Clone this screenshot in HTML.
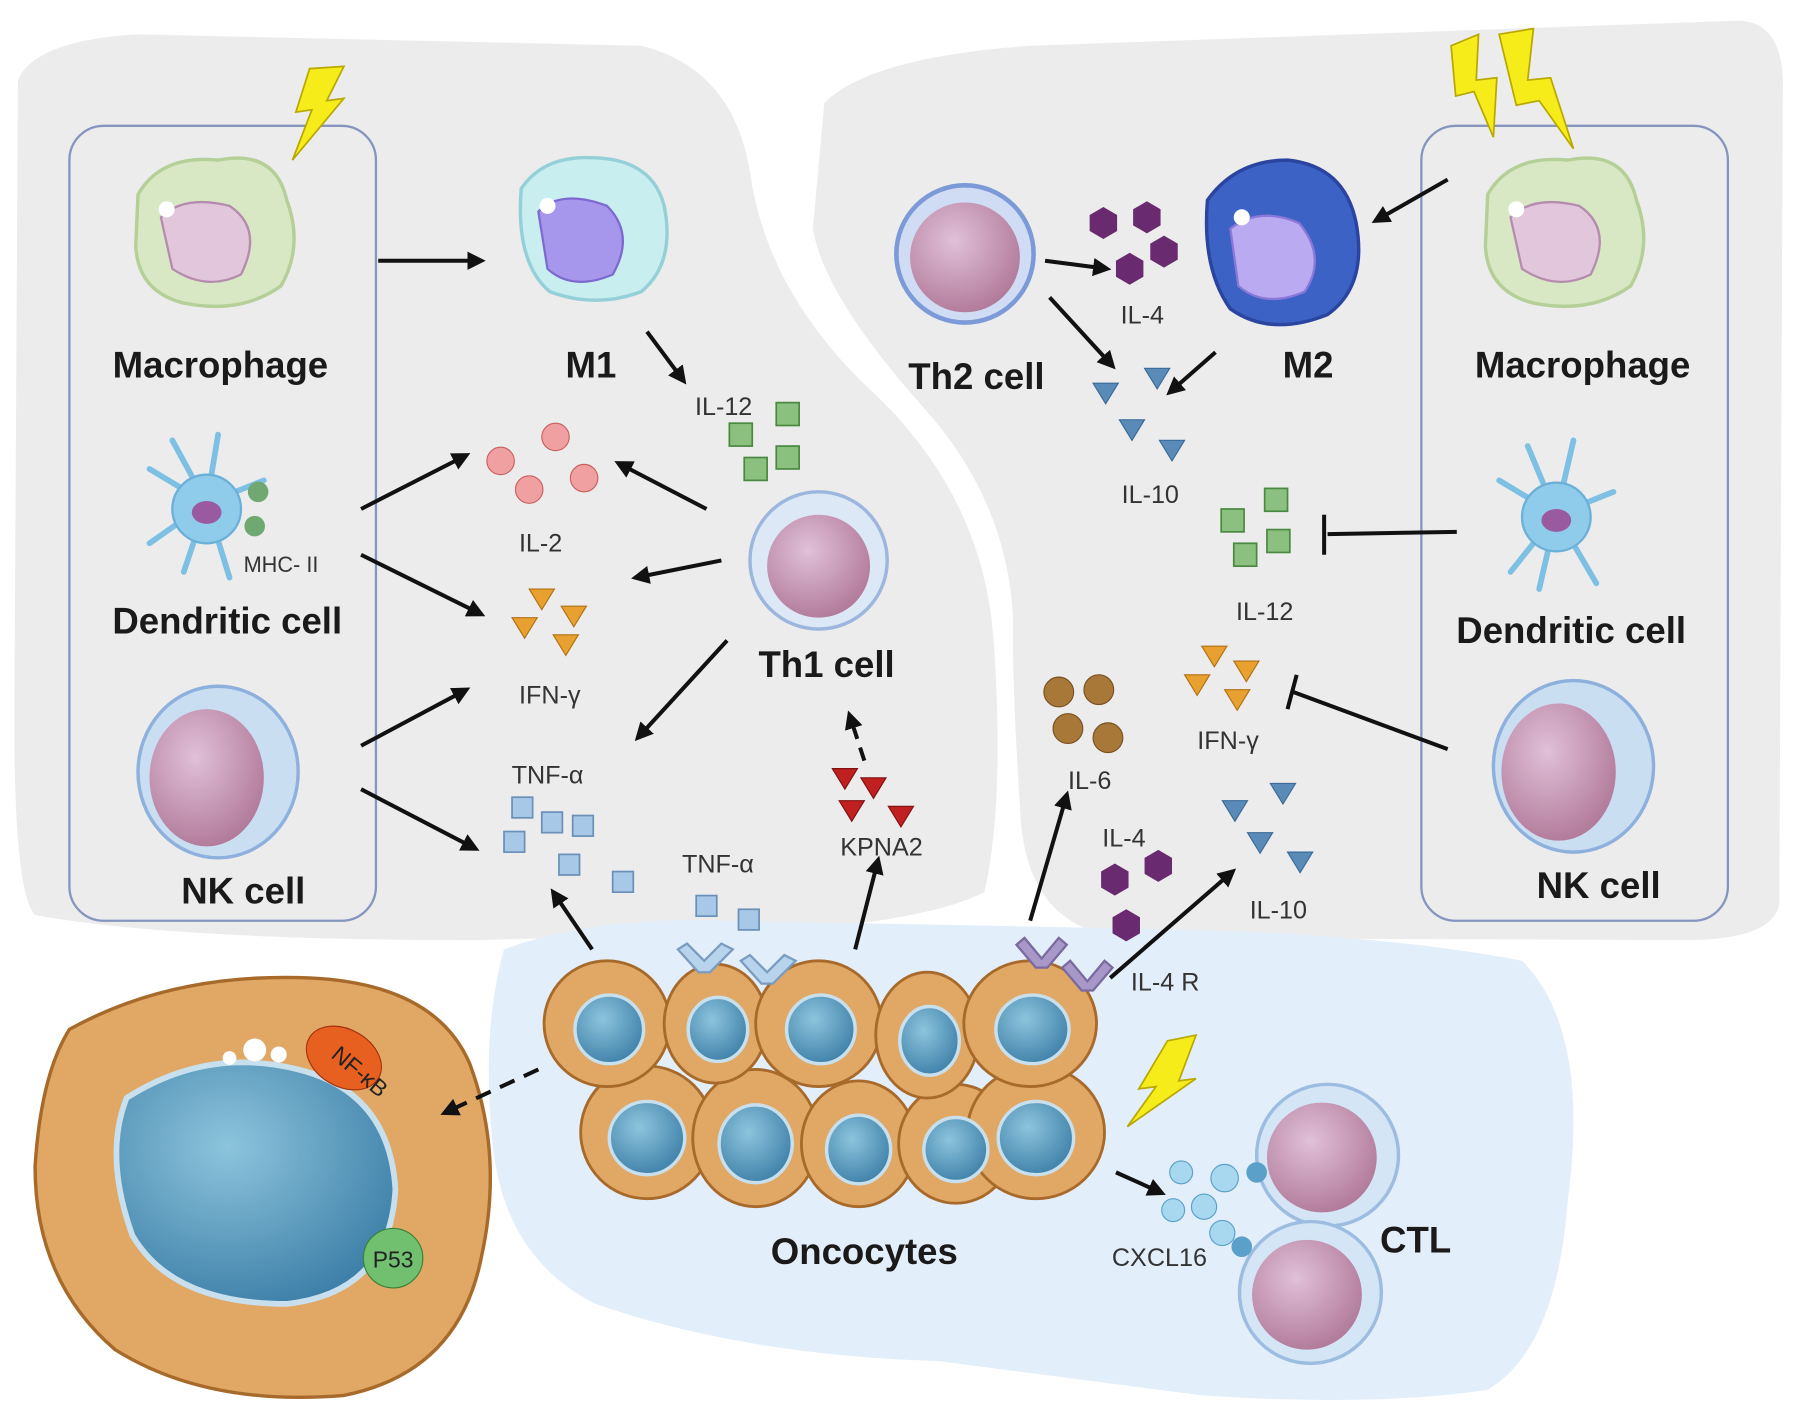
<!DOCTYPE html>
<html><head><meta charset="utf-8"><style>
html,body{margin:0;padding:0;background:#fff;}
svg{display:block;}
text{font-family:"Liberation Sans",sans-serif;}
.lb{font-weight:bold;font-size:32px;fill:#1a1a1a;}
.ck{font-size:22px;fill:#333;}
</style></head><body>
<svg width="1795" height="1416" viewBox="0 0 1568 1238" xmlns="http://www.w3.org/2000/svg">
<defs>
<marker id="ah" markerWidth="16" markerHeight="16" refX="12" refY="8" orient="auto" markerUnits="userSpaceOnUse"><path d="M0,0 L16,8 L0,16 z" fill="#111"/></marker>
<radialGradient id="nuc" cx="0.4" cy="0.35" r="0.7"><stop offset="0" stop-color="#e0c0d8"/><stop offset="1" stop-color="#b07898"/></radialGradient>
<radialGradient id="blu" cx="0.4" cy="0.35" r="0.7"><stop offset="0" stop-color="#8cc4dc"/><stop offset="1" stop-color="#3d7fa8"/></radialGradient>
</defs>
<!-- blobs -->
<path d="M15,70 Q30,35 120,30 L560,40 Q640,60 655,150 Q670,260 770,350 Q860,440 868,560 Q878,700 860,780 Q800,810 640,815 L420,822 Q150,822 30,800 Q10,780 12,600 Z" fill="#ececec"/>
<path d="M720,90 Q760,50 900,40 L1520,18 Q1560,20 1558,80 L1555,790 Q1550,820 1480,822 L980,820 Q900,810 892,720 Q884,600 885,540 Q880,440 810,360 Q720,260 710,200 Z" fill="#ececec"/>
<path d="M440,830 Q520,800 640,805 L1000,812 Q1200,815 1330,840 Q1390,900 1370,1050 Q1360,1180 1300,1215 Q1200,1230 1050,1220 L820,1190 Q650,1185 520,1140 Q440,1100 430,1000 Q420,900 440,830 Z" fill="#e3eefb"/>
<!-- boxes -->
<rect x="60" y="110" width="268" height="695" rx="30" fill="none" stroke="#8595bf" stroke-width="2"/>
<rect x="1242" y="110" width="268" height="695" rx="30" fill="none" stroke="#8595bf" stroke-width="2"/>
<!-- lightning -->
<g fill="#f6ec1a" stroke="#b8a800" stroke-width="1.5">
<polygon points="270,60 300,58 285,88 300,86 255,140 272,96 258,98"/>
<polygon points="1268,40 1292,30 1290,70 1308,68 1305,120 1288,80 1272,84"/>
<polygon points="1310,30 1340,25 1335,70 1355,68 1375,130 1345,88 1325,92"/>
<polygon points="1020,910 1045,905 1030,945 1045,943 985,985 1010,950 995,952"/>
</g>
<g>
<path d="M120,170 Q140,135 190,140 Q240,130 250,175 Q265,215 245,250 Q210,275 160,265 Q120,255 118,215 Z" fill="#d9e8c4" stroke="#b5cf98" stroke-width="3"/>
<path d="M140,190 Q160,170 200,180 Q230,200 210,240 Q180,255 150,235 Z" fill="#e2c6dc" stroke="#b58cae" stroke-width="2"/>
<circle cx="145" cy="183" r="7" fill="#fff"/>
</g>
<g transform="translate(1180,0)">
<path d="M120,170 Q140,135 190,140 Q240,130 250,175 Q265,215 245,250 Q210,275 160,265 Q120,255 118,215 Z" fill="#d9e8c4" stroke="#b5cf98" stroke-width="3"/>
<path d="M140,190 Q160,170 200,180 Q230,200 210,240 Q180,255 150,235 Z" fill="#e2c6dc" stroke="#b58cae" stroke-width="2"/>
<circle cx="145" cy="183" r="7" fill="#fff"/>
</g>
<g>
<path d="M455,165 Q475,135 520,138 Q570,140 580,180 Q590,230 560,255 Q520,270 480,255 Q450,230 455,165 Z" fill="#c9eef0" stroke="#95d0d8" stroke-width="3"/>
<path d="M470,185 Q490,165 530,180 Q555,205 535,240 Q500,255 478,235 Z" fill="#a797ec" stroke="#7d6ad0" stroke-width="2"/>
<circle cx="478" cy="180" r="7" fill="#fff"/>
</g>
<g>
<path d="M1055,175 Q1080,140 1125,140 Q1175,145 1185,195 Q1195,250 1160,275 Q1110,295 1075,270 Q1050,235 1055,175 Z" fill="#3b62c4" stroke="#2a44a0" stroke-width="3"/>
<path d="M1075,200 Q1100,180 1135,195 Q1160,225 1140,255 Q1105,270 1082,250 Z" fill="#b9aaf2" stroke="#8a78d8" stroke-width="2"/>
<circle cx="1085" cy="190" r="7" fill="#fff"/>
</g>
<g stroke="#7ec0e4" stroke-width="5" fill="none" stroke-linecap="round">
<path d="M180,440 L130,410 M180,440 L150,385 M180,440 L190,380 M180,440 L130,475 M180,440 L160,500 M180,440 L200,505 M180,440 L230,420"/>
<path d="M1360,450 L1310,420 M1360,450 L1335,390 M1360,450 L1375,385 M1360,450 L1410,430 M1360,450 L1320,500 M1360,450 L1345,515 M1360,450 L1395,510"/>
</g>
<circle cx="180" cy="445" r="30" fill="#8fcbea" stroke="#6ab0d8" stroke-width="2"/><ellipse cx="180" cy="448" rx="13" ry="10" fill="#9a5aa0"/>
<circle cx="1360" cy="452" r="30" fill="#8fcbea" stroke="#6ab0d8" stroke-width="2"/><ellipse cx="1360" cy="455" rx="13" ry="10" fill="#9a5aa0"/>
<g fill="#6fa870"><circle cx="225" cy="430" r="9"/><circle cx="222" cy="460" r="9"/></g>
<ellipse cx="190" cy="675" rx="70" ry="75" fill="#cadef2" stroke="#8eb0dc" stroke-width="3"/>
<ellipse cx="180" cy="680" rx="50" ry="60" fill="url(#nuc)"/>
<ellipse cx="1375" cy="670" rx="70" ry="75" fill="#cadef2" stroke="#8eb0dc" stroke-width="3"/>
<ellipse cx="1362" cy="675" rx="50" ry="60" fill="url(#nuc)"/>
<circle cx="715" cy="490" r="60" fill="#dde8f6" stroke="#9cb6de" stroke-width="3"/><circle cx="715" cy="495" r="45" fill="url(#nuc)"/>
<circle cx="843" cy="222" r="60" fill="#cfdcf4" stroke="#7d9ad8" stroke-width="4"/><circle cx="843" cy="225" r="48" fill="url(#nuc)"/>
<g fill="#f0a0a0" stroke="#c86060"><circle cx="485" cy="382" r="12"/><circle cx="437" cy="403" r="12"/><circle cx="510" cy="418" r="12"/><circle cx="462" cy="428" r="12"/></g>
<g fill="#e8a030" stroke="#b07010"><polygon points="462,515 484,515 473,533"/><polygon points="490,530 512,530 501,548"/><polygon points="447,540 469,540 458,558"/><polygon points="483,555 505,555 494,573"/></g>
<g fill="#a8c8e8" stroke="#6a90b8" stroke-width="1.5"><rect x="447" y="697" width="18" height="18"/><rect x="473" y="710" width="18" height="18"/><rect x="500" y="713" width="18" height="18"/><rect x="440" y="727" width="18" height="18"/><rect x="488" y="747" width="18" height="18"/><rect x="535" y="762" width="18" height="18"/><rect x="608" y="783" width="18" height="18"/><rect x="645" y="795" width="18" height="18"/></g>
<g fill="#8cc080" stroke="#4a8a40" stroke-width="1.5"><rect x="678" y="352" width="20" height="20"/><rect x="637" y="370" width="20" height="20"/><rect x="678" y="390" width="20" height="20"/><rect x="650" y="400" width="20" height="20"/>
<rect x="1105" y="427" width="20" height="20"/><rect x="1067" y="445" width="20" height="20"/><rect x="1107" y="463" width="20" height="20"/><rect x="1078" y="475" width="20" height="20"/></g>
<g fill="#6a2a70"><polygon points="952,188 964,181 976,188 976,202 964,209 952,202"/><polygon points="990,183 1002,176 1014,183 1014,197 1002,204 990,197"/><polygon points="1005,213 1017,206 1029,213 1029,227 1017,234 1005,227"/><polygon points="975,228 987,221 999,228 999,242 987,249 975,242"/>
<polygon points="962,762 974,755 986,762 986,776 974,783 962,776"/><polygon points="1000,750 1012,743 1024,750 1024,764 1012,771 1000,764"/><polygon points="972,802 984,795 996,802 996,816 984,823 972,816"/></g>
<g fill="#5a8ab8" stroke="#3a6a98"><polygon points="1000,322 1022,322 1011,340"/><polygon points="955,335 977,335 966,353"/><polygon points="978,367 1000,367 989,385"/><polygon points="1013,385 1035,385 1024,403"/>
<polygon points="1110,685 1132,685 1121,703"/><polygon points="1068,700 1090,700 1079,718"/><polygon points="1090,728 1112,728 1101,746"/><polygon points="1125,745 1147,745 1136,763"/></g>
<g fill="#e8a030" stroke="#b07010"><polygon points="1050,565 1072,565 1061,583"/><polygon points="1078,578 1100,578 1089,596"/><polygon points="1035,590 1057,590 1046,608"/><polygon points="1070,603 1092,603 1081,621"/></g>
<g fill="#a87838" stroke="#7a5020"><circle cx="925" cy="605" r="13"/><circle cx="960" cy="603" r="13"/><circle cx="933" cy="637" r="13"/><circle cx="968" cy="645" r="13"/></g>
<g fill="#c02020" stroke="#801010"><polygon points="727,672 749,672 738,690"/><polygon points="752,680 774,680 763,698"/><polygon points="733,700 755,700 744,718"/><polygon points="776,705 798,705 787,723"/></g>
<g fill="#a8d8f0" stroke="#5aa0c8"><circle cx="1032" cy="1025" r="10"/><circle cx="1070" cy="1030" r="12"/><circle cx="1025" cy="1058" r="10"/><circle cx="1052" cy="1055" r="11"/><circle cx="1068" cy="1078" r="11"/></g>
<path d="M60,900 Q150,850 270,855 Q380,860 410,930 Q440,1010 420,1100 Q400,1200 300,1220 Q180,1230 100,1180 Q30,1120 30,1020 Q35,940 60,900 Z" fill="#e0a864" stroke="#a86a2a" stroke-width="3"/>
<path d="M110,960 Q180,915 260,935 Q340,955 345,1040 Q340,1130 250,1140 Q150,1140 115,1080 Q90,1010 110,960 Z" fill="url(#blu)" stroke="#c8e0ee" stroke-width="5"/>
<circle cx="222" cy="918" r="10" fill="#fff"/><circle cx="243" cy="922" r="7" fill="#fff"/><circle cx="200" cy="925" r="6" fill="#fff"/>
<ellipse cx="300" cy="925" rx="35" ry="25" fill="#e86020" stroke="#a03010" transform="rotate(30 300 925)"/>
<text x="290" y="932" font-size="20" fill="#222" transform="rotate(40 300 925)">NF-κB</text>
<circle cx="343" cy="1100" r="26" fill="#70c070" stroke="#3a803a"/>
<text x="343" y="1108" font-size="20" fill="#222" text-anchor="middle">P53</text>
<g fill="#e0a864" stroke="#a86a2a" stroke-width="2.5">
<ellipse cx="565" cy="990" rx="58" ry="58"/><ellipse cx="660" cy="995" rx="55" ry="60"/><ellipse cx="750" cy="1000" rx="50" ry="55"/><ellipse cx="835" cy="1000" rx="50" ry="52"/><ellipse cx="905" cy="990" rx="60" ry="58"/>
<ellipse cx="530" cy="895" rx="55" ry="55"/><ellipse cx="625" cy="895" rx="45" ry="52"/><ellipse cx="715" cy="895" rx="55" ry="55"/><ellipse cx="810" cy="905" rx="45" ry="55"/><ellipse cx="900" cy="895" rx="58" ry="55"/>
</g>
<g fill="url(#blu)" stroke="#c8e0ee" stroke-width="3">
<ellipse cx="565" cy="995" rx="33" ry="32"/><ellipse cx="660" cy="1000" rx="32" ry="34"/><ellipse cx="750" cy="1005" rx="28" ry="30"/><ellipse cx="835" cy="1005" rx="28" ry="28"/><ellipse cx="905" cy="995" rx="33" ry="32"/>
<ellipse cx="532" cy="900" rx="30" ry="30"/><ellipse cx="627" cy="900" rx="26" ry="28"/><ellipse cx="717" cy="900" rx="30" ry="30"/><ellipse cx="812" cy="910" rx="26" ry="30"/><ellipse cx="902" cy="900" rx="32" ry="30"/>
</g>
<g fill="#b8d4ec" stroke="#7a9cc0" stroke-width="2"><path d="M600,825 L615,840 L630,825 L640,830 L620,850 L610,850 L592,830 Z"/><path d="M655,835 L670,850 L685,835 L695,840 L675,860 L665,860 L647,840 Z"/></g>
<g fill="#a898c8" stroke="#7a6aa0" stroke-width="2"><path d="M895,820 L910,838 L925,820 L932,826 L915,846 L905,846 L888,826 Z"/><path d="M935,840 L950,858 L965,840 L972,846 L955,866 L945,866 L928,846 Z"/></g>
<circle cx="1160" cy="1010" r="62" fill="#d4e6f6" stroke="#9cbce0" stroke-width="3"/><circle cx="1155" cy="1012" r="48" fill="url(#nuc)"/>
<circle cx="1145" cy="1130" r="62" fill="#d4e6f6" stroke="#9cbce0" stroke-width="3"/><circle cx="1142" cy="1132" r="48" fill="url(#nuc)"/>
<g fill="#5aa0c8"><circle cx="1098" cy="1025" r="9"/><circle cx="1085" cy="1090" r="9"/></g>
<g stroke="#111" stroke-width="3.5" fill="none" marker-end="url(#ah)">
<line x1="330" y1="228" x2="420" y2="228"/>
<line x1="565" y1="290" x2="597" y2="333"/>
<line x1="315" y1="445" x2="407" y2="398"/>
<line x1="315" y1="485" x2="420" y2="537"/>
<line x1="315" y1="652" x2="407" y2="603"/>
<line x1="315" y1="690" x2="415" y2="742"/>
<line x1="617" y1="445" x2="540" y2="405"/>
<line x1="630" y1="490" x2="555" y2="505"/>
<line x1="635" y1="560" x2="557" y2="645"/>
<line x1="517" y1="830" x2="483" y2="780"/>
<line x1="747" y1="830" x2="767" y2="752"/>
<line x1="900" y1="805" x2="932" y2="695"/>
<line x1="970" y1="855" x2="1077" y2="762"/>
<line x1="913" y1="228" x2="967" y2="235"/>
<line x1="917" y1="260" x2="972" y2="320"/>
<line x1="1062" y1="308" x2="1022" y2="343"/>
<line x1="1265" y1="157" x2="1202" y2="193"/>
<line x1="975" y1="1025" x2="1015" y2="1043"/>
</g>
<line x1="755" y1="665" x2="742" y2="625" stroke="#111" stroke-width="3.5" stroke-dasharray="12,8" marker-end="url(#ah)"/>
<line x1="470" y1="935" x2="388" y2="973" stroke="#111" stroke-width="3.5" stroke-dasharray="14,9" marker-end="url(#ah)"/>
<g stroke="#111" stroke-width="3.5"><line x1="1273" y1="465" x2="1160" y2="467"/><line x1="1157" y1="450" x2="1157" y2="485"/>
<line x1="1265" y1="655" x2="1130" y2="605"/><line x1="1133" y1="590" x2="1125" y2="620"/></g>
<text class="lb" x="192" y="330" text-anchor="middle">Macrophage</text>
<text class="lb" x="516" y="330" text-anchor="middle">M1</text>
<text class="lb" x="198" y="554" text-anchor="middle">Dendritic cell</text>
<text class="lb" x="212" y="790" text-anchor="middle">NK cell</text>
<text class="lb" x="722" y="592" text-anchor="middle">Th1 cell</text>
<text class="lb" x="853" y="340" text-anchor="middle">Th2 cell</text>
<text class="lb" x="1143" y="330" text-anchor="middle">M2</text>
<text class="lb" x="1383" y="330" text-anchor="middle">Macrophage</text>
<text class="lb" x="1373" y="562" text-anchor="middle">Dendritic cell</text>
<text class="lb" x="1397" y="785" text-anchor="middle">NK cell</text>
<text class="lb" x="755" y="1105" text-anchor="middle" font-size="30">Oncocytes</text>
<text class="lb" x="1237" y="1095" text-anchor="middle" font-size="30">CTL</text>
<g class="ck">
<text x="245" y="500" text-anchor="middle" font-size="19">MHC- II</text>
<text x="632" y="363" text-anchor="middle">IL-12</text>
<text x="472" y="482" text-anchor="middle">IL-2</text>
<text x="480" y="615" text-anchor="middle">IFN-γ</text>
<text x="478" y="685" text-anchor="middle">TNF-α</text>
<text x="627" y="763" text-anchor="middle">TNF-α</text>
<text x="770" y="748" text-anchor="middle">KPNA2</text>
<text x="998" y="283" text-anchor="middle">IL-4</text>
<text x="1005" y="440" text-anchor="middle">IL-10</text>
<text x="1105" y="542" text-anchor="middle">IL-12</text>
<text x="1073" y="655" text-anchor="middle">IFN-γ</text>
<text x="952" y="690" text-anchor="middle">IL-6</text>
<text x="982" y="740" text-anchor="middle">IL-4</text>
<text x="1117" y="803" text-anchor="middle">IL-10</text>
<text x="1018" y="866" text-anchor="middle">IL-4 R</text>
<text x="1013" y="1107" text-anchor="middle">CXCL16</text>
</g>
</svg>
</body></html>
